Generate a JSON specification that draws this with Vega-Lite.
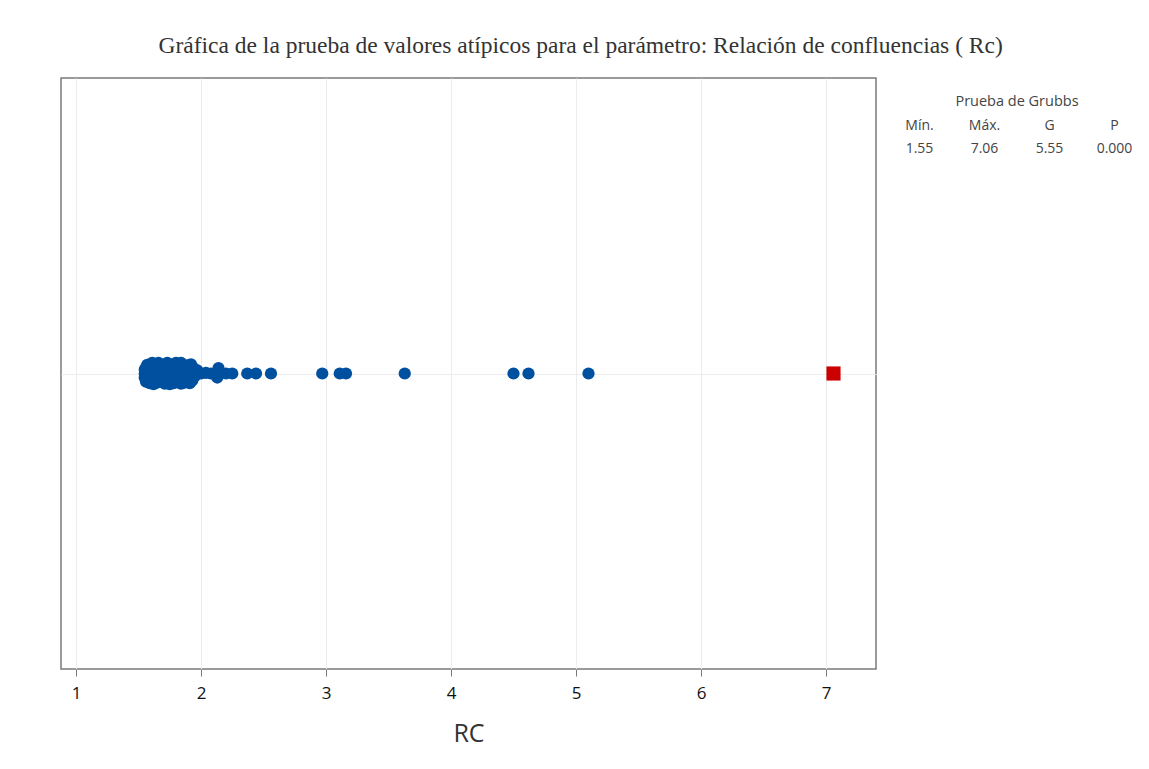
{
  "$schema": "https://vega.github.io/schema/vega-lite/v6.json",
  "background": "white",
  "padding": {"left": 60, "top": 33, "right": 5, "bottom": 5},
  "title": {
    "text": "Gráfica de la prueba de valores atípicos para el parámetro: Relación de confluencias ( Rc)",
    "font": "Liberation Serif",
    "fontSize": 23.5,
    "fontWeight": "normal",
    "color": "#333333",
    "anchor": "middle",
    "offset": 20,
    "dx": -23
  },
  "config": {
    "view": {"stroke": "#7a7a7a", "strokeWidth": 1.5},
    "concat": {"spacing": 10}
  },
  "hconcat": [
    {
      "width": 815,
      "height": 591,
      "data": {
        "values": [
          {"RC": 1.55, "jitter": 0.0, "tipo": "normal"},
          {"RC": 1.55, "jitter": 0.15, "tipo": "normal"},
          {"RC": 1.55, "jitter": -0.15, "tipo": "normal"},
          {"RC": 1.56, "jitter": 0.22, "tipo": "normal"},
          {"RC": 1.56, "jitter": -0.3, "tipo": "normal"},
          {"RC": 1.57, "jitter": -0.18, "tipo": "normal"},
          {"RC": 1.57, "jitter": 0.32, "tipo": "normal"},
          {"RC": 1.58, "jitter": 0.1, "tipo": "normal"},
          {"RC": 1.59, "jitter": -0.05, "tipo": "normal"},
          {"RC": 1.59, "jitter": -0.36, "tipo": "normal"},
          {"RC": 1.6, "jitter": 0.3, "tipo": "normal"},
          {"RC": 1.6, "jitter": -0.12, "tipo": "normal"},
          {"RC": 1.61, "jitter": -0.25, "tipo": "normal"},
          {"RC": 1.61, "jitter": 0.4, "tipo": "normal"},
          {"RC": 1.62, "jitter": -0.4, "tipo": "normal"},
          {"RC": 1.62, "jitter": 0.2, "tipo": "normal"},
          {"RC": 1.63, "jitter": 0.15, "tipo": "normal"},
          {"RC": 1.63, "jitter": -0.2, "tipo": "normal"},
          {"RC": 1.64, "jitter": 0.05, "tipo": "normal"},
          {"RC": 1.64, "jitter": -0.35, "tipo": "normal"},
          {"RC": 1.65, "jitter": 0.33, "tipo": "normal"},
          {"RC": 1.65, "jitter": -0.08, "tipo": "normal"},
          {"RC": 1.66, "jitter": 0.4, "tipo": "normal"},
          {"RC": 1.66, "jitter": -0.28, "tipo": "normal"},
          {"RC": 1.67, "jitter": -0.12, "tipo": "normal"},
          {"RC": 1.67, "jitter": 0.1, "tipo": "normal"},
          {"RC": 1.68, "jitter": 0.22, "tipo": "normal"},
          {"RC": 1.68, "jitter": -0.3, "tipo": "normal"},
          {"RC": 1.69, "jitter": 0.0, "tipo": "normal"},
          {"RC": 1.7, "jitter": -0.2, "tipo": "normal"},
          {"RC": 1.7, "jitter": 0.3, "tipo": "normal"},
          {"RC": 1.71, "jitter": 0.08, "tipo": "normal"},
          {"RC": 1.71, "jitter": -0.38, "tipo": "normal"},
          {"RC": 1.72, "jitter": 0.25, "tipo": "normal"},
          {"RC": 1.72, "jitter": -0.1, "tipo": "normal"},
          {"RC": 1.73, "jitter": 0.4, "tipo": "normal"},
          {"RC": 1.74, "jitter": -0.26, "tipo": "normal"},
          {"RC": 1.74, "jitter": 0.12, "tipo": "normal"},
          {"RC": 1.75, "jitter": 0.0, "tipo": "normal"},
          {"RC": 1.75, "jitter": -0.4, "tipo": "normal"},
          {"RC": 1.76, "jitter": -0.3, "tipo": "normal"},
          {"RC": 1.76, "jitter": 0.3, "tipo": "normal"},
          {"RC": 1.77, "jitter": 0.18, "tipo": "normal"},
          {"RC": 1.77, "jitter": -0.15, "tipo": "normal"},
          {"RC": 1.78, "jitter": -0.36, "tipo": "normal"},
          {"RC": 1.78, "jitter": 0.05, "tipo": "normal"},
          {"RC": 1.79, "jitter": 0.32, "tipo": "normal"},
          {"RC": 1.79, "jitter": -0.22, "tipo": "normal"},
          {"RC": 1.8, "jitter": -0.1, "tipo": "normal"},
          {"RC": 1.8, "jitter": 0.4, "tipo": "normal"},
          {"RC": 1.81, "jitter": 0.12, "tipo": "normal"},
          {"RC": 1.81, "jitter": -0.32, "tipo": "normal"},
          {"RC": 1.82, "jitter": 0.34, "tipo": "normal"},
          {"RC": 1.82, "jitter": -0.05, "tipo": "normal"},
          {"RC": 1.83, "jitter": -0.22, "tipo": "normal"},
          {"RC": 1.83, "jitter": 0.2, "tipo": "normal"},
          {"RC": 1.84, "jitter": 0.4, "tipo": "normal"},
          {"RC": 1.84, "jitter": -0.38, "tipo": "normal"},
          {"RC": 1.85, "jitter": 0.05, "tipo": "normal"},
          {"RC": 1.85, "jitter": 0.28, "tipo": "normal"},
          {"RC": 1.86, "jitter": -0.15, "tipo": "normal"},
          {"RC": 1.86, "jitter": -0.35, "tipo": "normal"},
          {"RC": 1.87, "jitter": 0.22, "tipo": "normal"},
          {"RC": 1.87, "jitter": 0.0, "tipo": "normal"},
          {"RC": 1.88, "jitter": -0.05, "tipo": "normal"},
          {"RC": 1.88, "jitter": -0.28, "tipo": "normal"},
          {"RC": 1.89, "jitter": 0.3, "tipo": "normal"},
          {"RC": 1.9, "jitter": -0.22, "tipo": "normal"},
          {"RC": 1.9, "jitter": 0.1, "tipo": "normal"},
          {"RC": 1.91, "jitter": 0.15, "tipo": "normal"},
          {"RC": 1.91, "jitter": -0.36, "tipo": "normal"},
          {"RC": 1.92, "jitter": -0.1, "tipo": "normal"},
          {"RC": 1.92, "jitter": 0.34, "tipo": "normal"},
          {"RC": 1.93, "jitter": 0.05, "tipo": "normal"},
          {"RC": 1.93, "jitter": -0.26, "tipo": "normal"},
          {"RC": 1.94, "jitter": 0.2, "tipo": "normal"},
          {"RC": 1.95, "jitter": -0.1, "tipo": "normal"},
          {"RC": 1.96, "jitter": 0.0, "tipo": "normal"},
          {"RC": 1.97, "jitter": 0.12, "tipo": "normal"},
          {"RC": 2.0, "jitter": 0.0, "tipo": "normal"},
          {"RC": 2.04, "jitter": 0.02, "tipo": "normal"},
          {"RC": 2.08, "jitter": 0.0, "tipo": "normal"},
          {"RC": 2.13, "jitter": -0.15, "tipo": "normal"},
          {"RC": 2.14, "jitter": 0.2, "tipo": "normal"},
          {"RC": 2.15, "jitter": 0.0, "tipo": "normal"},
          {"RC": 2.2, "jitter": 0.0, "tipo": "normal"},
          {"RC": 2.25, "jitter": 0.0, "tipo": "normal"},
          {"RC": 2.37, "jitter": 0.0, "tipo": "normal"},
          {"RC": 2.44, "jitter": 0.0, "tipo": "normal"},
          {"RC": 2.56, "jitter": 0.0, "tipo": "normal"},
          {"RC": 2.97, "jitter": 0.0, "tipo": "normal"},
          {"RC": 3.11, "jitter": 0.0, "tipo": "normal"},
          {"RC": 3.16, "jitter": 0.0, "tipo": "normal"},
          {"RC": 3.63, "jitter": 0.0, "tipo": "normal"},
          {"RC": 4.5, "jitter": 0.0, "tipo": "normal"},
          {"RC": 4.62, "jitter": 0.0, "tipo": "normal"},
          {"RC": 5.1, "jitter": 0.0, "tipo": "normal"},
          {"RC": 7.06, "jitter": 0.0, "tipo": "atípico"}
        ]
      },
      "mark": {"type": "point", "filled": true, "opacity": 1},
      "encoding": {
        "x": {
          "field": "RC",
          "type": "quantitative",
          "scale": {"domain": [0.88, 7.4], "nice": false, "zero": false},
          "axis": {
            "values": [1, 2, 3, 4, 5, 6, 7],
            "title": "RC",
            "titleFont": "Open Sans",
            "titleFontSize": 25,
            "titleFontWeight": "normal",
            "titleColor": "#333333",
            "titlePadding": 20,
            "labelFont": "Open Sans",
            "labelFontSize": 17,
            "labelColor": "#111111",
            "labelPadding": 9,
            "tickColor": "#7a7a7a",
            "tickSize": 7,
            "domain": false,
            "grid": true,
            "gridColor": "#ececec",
            "gridWidth": 1
          }
        },
        "y": {
          "field": "jitter",
          "type": "quantitative",
          "scale": {"domain": [-11, 11], "nice": false, "zero": false},
          "axis": {
            "values": [0],
            "labels": false,
            "ticks": false,
            "domain": false,
            "title": null,
            "grid": true,
            "gridColor": "#ececec"
          }
        },
        "color": {
          "field": "tipo",
          "type": "nominal",
          "scale": {"domain": ["normal", "atípico"], "range": ["#0050a0", "#cc0000"]},
          "legend": null
        },
        "shape": {
          "field": "tipo",
          "type": "nominal",
          "scale": {"domain": ["normal", "atípico"], "range": ["circle", "square"]},
          "legend": null
        },
        "size": {
          "field": "tipo",
          "type": "nominal",
          "scale": {"domain": ["normal", "atípico"], "range": [150, 200]},
          "legend": null
        }
      }
    },
    {
      "width": 260,
      "height": 95,
      "view": {"stroke": null},
      "data": {
        "values": [
          {"fila": "encabezado", "columna": "Mín.", "texto": "Mín."},
          {"fila": "encabezado", "columna": "Máx.", "texto": "Máx."},
          {"fila": "encabezado", "columna": "G", "texto": "G"},
          {"fila": "encabezado", "columna": "P", "texto": "P"},
          {"fila": "valor", "columna": "Mín.", "texto": "1.55"},
          {"fila": "valor", "columna": "Máx.", "texto": "7.06"},
          {"fila": "valor", "columna": "G", "texto": "5.55"},
          {"fila": "valor", "columna": "P", "texto": "0.000"},
          {"fila": "titulo", "columna": null, "texto": "Prueba de Grubbs"}
        ]
      },
      "layer": [
        {
          "transform": [{"filter": "datum.fila !== 'titulo'"}],
          "mark": {"type": "text", "font": "Open Sans", "fontSize": 14, "color": "#444444"},
          "encoding": {
            "x": {
              "field": "columna",
              "type": "nominal",
              "sort": ["Mín.", "Máx.", "G", "P"],
              "scale": {"type": "band", "paddingInner": 0, "paddingOuter": 0},
              "axis": null
            },
            "y": {
              "field": "fila",
              "type": "nominal",
              "sort": ["titulo", "encabezado", "valor"],
              "scale": {"type": "band", "domain": ["titulo", "encabezado", "valor"], "paddingInner": 0, "paddingOuter": 0.5},
              "axis": null
            },
            "text": {"field": "texto"}
          }
        },
        {
          "transform": [{"filter": "datum.fila === 'titulo'"}],
          "mark": {"type": "text", "font": "Open Sans", "fontSize": 14.5, "color": "#444444"},
          "encoding": {
            "y": {
              "field": "fila",
              "type": "nominal",
              "sort": ["titulo", "encabezado", "valor"],
              "scale": {"type": "band", "domain": ["titulo", "encabezado", "valor"], "paddingInner": 0, "paddingOuter": 0.5},
              "axis": null
            },
            "text": {"field": "texto"}
          }
        }
      ]
    }
  ]
}
